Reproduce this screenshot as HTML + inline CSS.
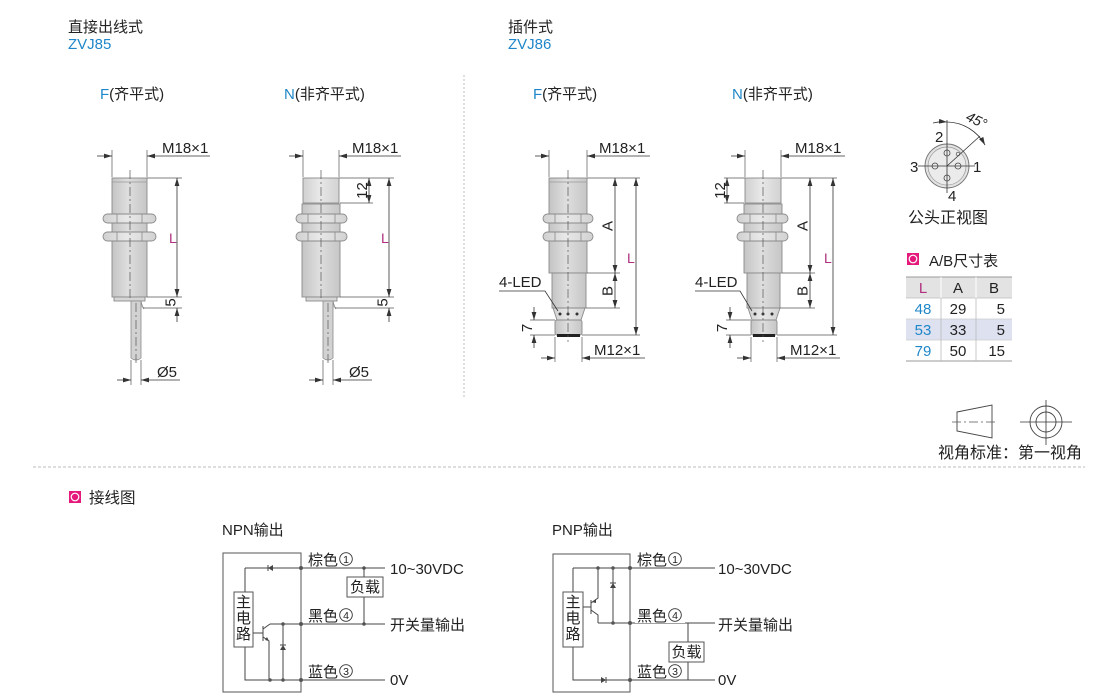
<!DOCTYPE html>
<html><head><meta charset="utf-8">
<style>
html,body{margin:0;padding:0;background:#fff;}
svg{display:block;}
text{font-family:"Liberation Sans","Noto Sans CJK SC",sans-serif;fill:#222;}
.d{stroke:#333;stroke-width:0.8;fill:none;}
.e{stroke:#555;stroke-width:0.7;fill:none;}
.c{stroke:#555;stroke-width:0.7;stroke-dasharray:9 3 2 3;fill:none;}
.b{stroke:#8a8a8a;stroke-width:0.9;}
.w{stroke:#444;stroke-width:1;fill:none;}
.t15{font-size:15px;}
.t14{font-size:14px;}
.bl{fill:#1f87c9;}
.mg{fill:#b0307f;}
.cn{fill:none;stroke:#333;stroke-width:0.9;}
.cd{font-size:10.5px;}
</style></head>
<body>
<svg width="1100" height="695" viewBox="0 0 1100 695" xmlns="http://www.w3.org/2000/svg">
<defs>
<marker id="a" markerUnits="userSpaceOnUse" markerWidth="8" markerHeight="6" refX="8" refY="3" orient="auto-start-reverse"><path d="M0,0.6 L8,3 L0,5.4z" fill="#333"/></marker>
<linearGradient id="g" x1="0" x2="1" y1="0" y2="0">
<stop offset="0" stop-color="#c4c4c4"/><stop offset="0.45" stop-color="#dedede"/><stop offset="1" stop-color="#c6c6c6"/>
</linearGradient>
<linearGradient id="g2" x1="0" x2="1" y1="0" y2="0">
<stop offset="0" stop-color="#d0d0d0"/><stop offset="0.45" stop-color="#e8e8e8"/><stop offset="1" stop-color="#d2d2d2"/>
</linearGradient>
</defs>

<!-- Headers -->
<text x="68" y="32" class="t15">直接出线式</text>
<text x="68" y="49" class="t15 bl">ZVJ85</text>
<text x="100" y="99" class="t15"><tspan class="bl">F</tspan>(齐平式)</text>
<text x="284" y="99" class="t15"><tspan class="bl">N</tspan>(非齐平式)</text>
<text x="508" y="32" class="t15">插件式</text>
<text x="508" y="49" class="t15 bl">ZVJ86</text>
<text x="533" y="99" class="t15"><tspan class="bl">F</tspan>(齐平式)</text>
<text x="732" y="99" class="t15"><tspan class="bl">N</tspan>(非齐平式)</text>

<!-- separators -->
<line x1="464" y1="75" x2="464" y2="398" stroke="#bdbdbd" stroke-width="1" stroke-dasharray="2 2"/>
<line x1="33" y1="467" x2="1085" y2="467" stroke="#bdbdbd" stroke-width="1" stroke-dasharray="3 2"/>

<!-- ===== Sensor 1: F ZVJ85 ===== -->
<g>
<line class="e" x1="112" y1="150" x2="112" y2="177"/>
<line class="e" x1="147" y1="150" x2="147" y2="177"/>
<path class="d" d="M97,156H112" marker-end="url(#a)"/>
<path class="d" d="M210,156H147" marker-end="url(#a)"/>
<text x="162" y="153" class="t15">M18×1</text>
<rect x="112" y="178" width="35" height="119" fill="url(#g)" class="b"/>
<line x1="112" y1="182" x2="147" y2="182" stroke="#9a9a9a" stroke-width="0.8"/>
<rect x="103" y="214" width="53" height="9" rx="4.5" fill="url(#g2)" class="b"/>
<rect x="103" y="232" width="53" height="9" rx="4.5" fill="url(#g2)" class="b"/>
<path d="M117,214V223M142,214V223M117,232V241M142,232V241" stroke="#8a8a8a" stroke-width="0.8"/>
<rect x="114" y="297" width="31" height="4" fill="#d6d6d6" class="b"/>
<path d="M131,301 H141 Q142,306 144,309 M141,301 V358 Q136,362 131,358 V301" fill="#d2d2d2" stroke="#8a8a8a" stroke-width="0.8"/>
<line class="c" x1="130" y1="170" x2="130" y2="300"/>
<line class="c" x1="136" y1="303" x2="136" y2="364"/>
<line class="e" x1="147" y1="178" x2="182" y2="178"/>
<line class="e" x1="147" y1="297" x2="182" y2="297"/>
<line class="e" x1="143" y1="308" x2="182" y2="308"/>
<path class="d" d="M177,178V297" marker-start="url(#a)" marker-end="url(#a)"/>
<path class="d" d="M177,322V308" marker-end="url(#a)"/>
<text x="169" y="243" class="t14 mg">L</text>
<text transform="translate(175.5,302.5) rotate(-90)" text-anchor="middle" class="t15">5</text>
<line class="e" x1="131" y1="360" x2="131" y2="385"/>
<line class="e" x1="141" y1="360" x2="141" y2="385"/>
<path class="d" d="M117,380H131" marker-end="url(#a)"/>
<path class="d" d="M180,380H141" marker-end="url(#a)"/>
<text x="157" y="377" class="t15">Ø5</text>
</g>

<!-- ===== Sensor 2: N ZVJ85 ===== -->
<g>
<line class="e" x1="303" y1="150" x2="303" y2="177"/>
<line class="e" x1="339" y1="150" x2="339" y2="177"/>
<path class="d" d="M289,156H303" marker-end="url(#a)"/>
<path class="d" d="M401,156H339" marker-end="url(#a)"/>
<text x="352" y="153" class="t15">M18×1</text>
<rect x="303" y="178" width="36" height="25" fill="url(#g2)" class="b"/>
<rect x="302" y="204" width="38" height="93" fill="url(#g)" class="b"/>
<rect x="296" y="214" width="51" height="9" rx="4.5" fill="url(#g2)" class="b"/>
<rect x="296" y="232" width="51" height="9" rx="4.5" fill="url(#g2)" class="b"/>
<path d="M308,214V223M335,214V223M308,232V241M335,232V241" stroke="#8a8a8a" stroke-width="0.8"/>
<rect x="306" y="297" width="31" height="4" fill="#d6d6d6" class="b"/>
<path d="M323,301 H333 Q334,306 336,309 M333,301 V358 Q328,362 323,358 V301" fill="#d2d2d2" stroke="#8a8a8a" stroke-width="0.8"/>
<line class="c" x1="321" y1="170" x2="321" y2="300"/>
<line class="c" x1="328" y1="303" x2="328" y2="364"/>
<line class="e" x1="339" y1="178" x2="394" y2="178"/>
<line class="e" x1="340" y1="203" x2="373" y2="203"/>
<line class="e" x1="340" y1="297" x2="394" y2="297"/>
<line class="e" x1="335" y1="308" x2="394" y2="308"/>
<path class="d" d="M369,178V203" marker-start="url(#a)" marker-end="url(#a)"/>
<text transform="translate(367,190.5) rotate(-90)" text-anchor="middle" class="t15">12</text>
<path class="d" d="M389,178V297" marker-start="url(#a)" marker-end="url(#a)"/>
<path class="d" d="M389,322V308" marker-end="url(#a)"/>
<text x="381" y="243" class="t14 mg">L</text>
<text transform="translate(387.5,302.5) rotate(-90)" text-anchor="middle" class="t15">5</text>
<line class="e" x1="323" y1="360" x2="323" y2="385"/>
<line class="e" x1="333" y1="360" x2="333" y2="385"/>
<path class="d" d="M309,380H323" marker-end="url(#a)"/>
<path class="d" d="M372,380H333" marker-end="url(#a)"/>
<text x="349" y="377" class="t15">Ø5</text>
</g>

<!-- ===== Sensor 3: F ZVJ86 ===== -->
<g>
<line class="e" x1="549" y1="150" x2="549" y2="177"/>
<line class="e" x1="587" y1="150" x2="587" y2="177"/>
<path class="d" d="M535,156H549" marker-end="url(#a)"/>
<path class="d" d="M650,156H587" marker-end="url(#a)"/>
<text x="599" y="153" class="t15">M18×1</text>
<rect x="549" y="178" width="38" height="95" fill="url(#g)" class="b"/>
<line x1="549" y1="182" x2="587" y2="182" stroke="#9a9a9a" stroke-width="0.8"/>
<rect x="543" y="214" width="50" height="9" rx="4.5" fill="url(#g2)" class="b"/>
<rect x="543" y="232" width="50" height="9" rx="4.5" fill="url(#g2)" class="b"/>
<path d="M555,214V223M581,214V223M555,232V241M581,232V241" stroke="#8a8a8a" stroke-width="0.8"/>
<rect x="552" y="273" width="34" height="35" fill="url(#g)" class="b"/>
<path d="M553,308 L557,320 H581 L585,308 Z" fill="url(#g2)" class="b"/>
<circle cx="560" cy="314" r="1.5" fill="#333"/><circle cx="568" cy="314" r="1.5" fill="#333"/><circle cx="577" cy="314" r="1.5" fill="#333"/>
<rect x="555" y="320" width="27" height="15" rx="2" fill="url(#g)" class="b"/>
<rect x="557" y="334" width="23" height="3" fill="#222"/>
<line class="c" x1="568" y1="170" x2="568" y2="342"/>
<line class="e" x1="587" y1="178" x2="640" y2="178"/>
<line class="e" x1="587" y1="273" x2="620" y2="273"/>
<line class="e" x1="586" y1="308" x2="620" y2="308"/>
<line class="e" x1="582" y1="335" x2="640" y2="335"/>
<path class="d" d="M615,178V273" marker-start="url(#a)" marker-end="url(#a)"/>
<path class="d" d="M615,273V308" marker-start="url(#a)" marker-end="url(#a)"/>
<path class="d" d="M636,178V335" marker-start="url(#a)" marker-end="url(#a)"/>
<text transform="translate(612.5,226) rotate(-90)" text-anchor="middle" class="t15">A</text>
<text transform="translate(612.5,291) rotate(-90)" text-anchor="middle" class="t15">B</text>
<text x="627" y="263" class="t14 mg">L</text>
<line class="e" x1="530" y1="320" x2="555" y2="320"/>
<line class="e" x1="530" y1="335" x2="555" y2="335"/>
<path class="d" d="M534,307V320" marker-end="url(#a)"/>
<path class="d" d="M534,348V335" marker-end="url(#a)"/>
<text transform="translate(532,328) rotate(-90)" text-anchor="middle" class="t15">7</text>
<line class="e" x1="555" y1="337" x2="555" y2="362"/>
<line class="e" x1="582" y1="337" x2="582" y2="362"/>
<path class="d" d="M541,358H555" marker-end="url(#a)"/>
<path class="d" d="M645,358H582" marker-end="url(#a)"/>
<text x="594" y="355" class="t15">M12×1</text>
<text x="499" y="287" class="t15">4-LED</text>
<path class="d" d="M499,291H545L558,311"/>
</g>

<!-- ===== Sensor 4: N ZVJ86 ===== -->
<g>
<line class="e" x1="745" y1="150" x2="745" y2="177"/>
<line class="e" x1="781" y1="150" x2="781" y2="177"/>
<path class="d" d="M731,156H745" marker-end="url(#a)"/>
<path class="d" d="M845,156H781" marker-end="url(#a)"/>
<text x="795" y="153" class="t15">M18×1</text>
<rect x="745" y="178" width="36" height="25" fill="url(#g2)" class="b"/>
<rect x="744" y="204" width="38" height="69" fill="url(#g)" class="b"/>
<rect x="737" y="214" width="51" height="9" rx="4.5" fill="url(#g2)" class="b"/>
<rect x="737" y="232" width="51" height="9" rx="4.5" fill="url(#g2)" class="b"/>
<path d="M750,214V223M776,214V223M750,232V241M776,232V241" stroke="#8a8a8a" stroke-width="0.8"/>
<rect x="747" y="273" width="33" height="35" fill="url(#g)" class="b"/>
<path d="M748,308 L752,320 H776 L780,308 Z" fill="url(#g2)" class="b"/>
<circle cx="755" cy="314" r="1.5" fill="#333"/><circle cx="763" cy="314" r="1.5" fill="#333"/><circle cx="772" cy="314" r="1.5" fill="#333"/>
<rect x="751" y="320" width="26" height="15" rx="2" fill="url(#g)" class="b"/>
<rect x="753" y="334" width="22" height="3" fill="#222"/>
<line class="c" x1="763" y1="170" x2="763" y2="342"/>
<line class="e" x1="724" y1="178" x2="745" y2="178"/>
<line class="e" x1="724" y1="203" x2="744" y2="203"/>
<path class="d" d="M727,178V203" marker-start="url(#a)" marker-end="url(#a)"/>
<text transform="translate(725,190.5) rotate(-90)" text-anchor="middle" class="t15">12</text>
<line class="e" x1="781" y1="178" x2="837" y2="178"/>
<line class="e" x1="782" y1="273" x2="815" y2="273"/>
<line class="e" x1="780" y1="308" x2="815" y2="308"/>
<line class="e" x1="777" y1="335" x2="837" y2="335"/>
<path class="d" d="M810,178V273" marker-start="url(#a)" marker-end="url(#a)"/>
<path class="d" d="M810,273V308" marker-start="url(#a)" marker-end="url(#a)"/>
<path class="d" d="M833,178V335" marker-start="url(#a)" marker-end="url(#a)"/>
<text transform="translate(807.5,226) rotate(-90)" text-anchor="middle" class="t15">A</text>
<text transform="translate(807.5,291) rotate(-90)" text-anchor="middle" class="t15">B</text>
<text x="824" y="263" class="t14 mg">L</text>
<line class="e" x1="726" y1="320" x2="751" y2="320"/>
<line class="e" x1="726" y1="335" x2="751" y2="335"/>
<path class="d" d="M730,307V320" marker-end="url(#a)"/>
<path class="d" d="M730,348V335" marker-end="url(#a)"/>
<text transform="translate(727,328) rotate(-90)" text-anchor="middle" class="t15">7</text>
<line class="e" x1="751" y1="337" x2="751" y2="362"/>
<line class="e" x1="777" y1="337" x2="777" y2="362"/>
<path class="d" d="M737,358H751" marker-end="url(#a)"/>
<path class="d" d="M840,358H777" marker-end="url(#a)"/>
<text x="790" y="355" class="t15">M12×1</text>
<text x="695" y="287" class="t15">4-LED</text>
<path class="d" d="M695,291H740L752,311"/>
</g>

<!-- ===== Connector face ===== -->
<g>
<circle cx="947" cy="166" r="22" fill="#e2e2e2" stroke="#777" stroke-width="0.9"/>
<circle cx="947" cy="166" r="19" fill="#ebebeb" stroke="#999" stroke-width="0.7"/>
<line class="d" x1="918" y1="166" x2="975" y2="166"/>
<line class="d" x1="947" y1="120" x2="947" y2="193"/>
<circle cx="947" cy="153" r="3" fill="none" stroke="#444" stroke-width="0.8"/>
<circle cx="935" cy="166" r="3" fill="none" stroke="#444" stroke-width="0.8"/>
<circle cx="958" cy="166" r="3" fill="none" stroke="#444" stroke-width="0.8"/>
<circle cx="947" cy="178" r="3" fill="none" stroke="#444" stroke-width="0.8"/>
<circle cx="958" cy="154" r="1.8" fill="none" stroke="#444" stroke-width="0.7"/>
<line class="d" x1="947" y1="166" x2="980" y2="136"/>
<path class="d" d="M933,123 A44,44 0 0 1 947,122" marker-end="url(#a)"/>
<path class="d" d="M947,122 A44,44 0 0 1 985,145" marker-end="url(#a)"/>
<text x="910" y="172" class="t15">3</text>
<text x="973" y="172" class="t15">1</text>
<text x="935" y="142" class="t15">2</text>
<text x="948" y="201" class="t15">4</text>
<text transform="translate(965,120) rotate(25)" class="t14" font-style="italic">45°</text>
<text x="908" y="223" style="font-size:16px">公头正视图</text>
</g>

<!-- ===== Table ===== -->
<g>
<rect x="907" y="253" width="12" height="12" fill="#e4197b"/>
<circle cx="913" cy="259" r="3.8" fill="none" stroke="#fff" stroke-width="1.2"/>
<text x="929" y="266" class="t15">A/B尺寸表</text>
<rect x="906" y="277" width="106" height="21" fill="#e3e3e3"/>
<rect x="906" y="319" width="106" height="21" fill="#dde1f0"/>
<line x1="906" y1="277" x2="1012" y2="277" stroke="#999" stroke-width="1"/>
<line x1="906" y1="298" x2="1012" y2="298" stroke="#bbb" stroke-width="0.8"/>
<line x1="906" y1="319" x2="1012" y2="319" stroke="#ccc" stroke-width="0.8"/>
<line x1="906" y1="340" x2="1012" y2="340" stroke="#ccc" stroke-width="0.8"/>
<line x1="906" y1="361" x2="1012" y2="361" stroke="#999" stroke-width="1"/>
<line x1="941" y1="277" x2="941" y2="298" stroke="#fff" stroke-width="1"/>
<line x1="976" y1="277" x2="976" y2="298" stroke="#fff" stroke-width="1"/>
<line x1="941" y1="298" x2="941" y2="361" stroke="#bbb" stroke-width="0.8"/>
<line x1="976" y1="298" x2="976" y2="361" stroke="#bbb" stroke-width="0.8"/>
<text x="923" y="293" text-anchor="middle" class="t15 mg">L</text>
<text x="958" y="293" text-anchor="middle" class="t15">A</text>
<text x="994" y="293" text-anchor="middle" class="t15">B</text>
<text x="923" y="314" text-anchor="middle" class="t15 bl">48</text>
<text x="958" y="314" text-anchor="middle" class="t15">29</text>
<text x="1005" y="314" text-anchor="end" class="t15">5</text>
<text x="923" y="335" text-anchor="middle" class="t15 bl">53</text>
<text x="958" y="335" text-anchor="middle" class="t15">33</text>
<text x="1005" y="335" text-anchor="end" class="t15">5</text>
<text x="923" y="356" text-anchor="middle" class="t15 bl">79</text>
<text x="958" y="356" text-anchor="middle" class="t15">50</text>
<text x="1005" y="356" text-anchor="end" class="t15">15</text>
</g>

<!-- ===== View symbol ===== -->
<g>
<path d="M957,412 L992,405 L992,438 L957,431 Z" fill="none" stroke="#444" stroke-width="0.9"/>
<line class="c" x1="952" y1="422" x2="998" y2="422"/>
<circle cx="1046" cy="422" r="16" fill="none" stroke="#444" stroke-width="0.9"/>
<circle cx="1046" cy="422" r="10" fill="none" stroke="#444" stroke-width="0.9"/>
<line class="d" x1="1020" y1="422" x2="1072" y2="422"/>
<line class="d" x1="1046" y1="400" x2="1046" y2="445"/>
<text x="938" y="458" style="font-size:16px">视角标准：第一视角</text>
</g>

<!-- ===== Wiring title ===== -->
<rect x="69" y="491" width="12" height="12" fill="#e4197b"/>
<circle cx="75" cy="497" r="3.8" fill="none" stroke="#fff" stroke-width="1.2"/>
<text x="89" y="503" style="font-size:15.5px">接线图</text>

<!-- ===== NPN ===== -->
<g>
<text x="222" y="535" class="t15">NPN输出</text>
<rect x="223" y="553" width="78" height="139" fill="none" stroke="#555" stroke-width="1"/>
<path class="w" d="M245,568H385 M245,568V592 M245,647V680H385 M270,624H385"/>
<rect x="234" y="592" width="19" height="55" fill="#fff" stroke="#555" stroke-width="1"/>
<text x="243.5" y="607" text-anchor="middle" class="t15">主</text>
<text x="243.5" y="623" text-anchor="middle" class="t15">电</text>
<text x="243.5" y="639" text-anchor="middle" class="t15">路</text>
<path d="M273,565 L273,571 L268,568 Z" fill="#444"/><line x1="268" y1="565" x2="268" y2="571" stroke="#444" stroke-width="1"/>
<path class="w" d="M253,633H263 M263,626V641 M263,629L270,624 M263,637L269,641V680"/>
<path d="M269,641 L265,640 L267,637 Z" fill="#444"/>
<path class="w" d="M283,624V680"/>
<path d="M280,650 L286,650 L283,645 Z" fill="#444"/><line x1="280" y1="645" x2="286" y2="645" stroke="#444" stroke-width="1"/>
<g fill="#555">
<circle cx="301" cy="568" r="2"/><circle cx="301" cy="624" r="2"/><circle cx="301" cy="680" r="2"/>
<circle cx="283" cy="624" r="1.8"/><circle cx="283" cy="680" r="1.8"/><circle cx="270" cy="680" r="1.8"/>
<circle cx="364" cy="568" r="1.8"/><circle cx="364" cy="624" r="1.8"/>
</g>
<path class="w" d="M364,568V577 M364,597V624"/>
<rect x="347" y="577" width="36" height="20" fill="#fff" stroke="#555" stroke-width="1"/>
<text x="365" y="592" text-anchor="middle" class="t15">负载</text>
<rect x="306" y="552" width="50" height="15" fill="#fff"/>
<rect x="306" y="608" width="50" height="15" fill="#fff"/>
<rect x="306" y="664" width="50" height="15" fill="#fff"/>
<text x="308" y="565" class="t15">棕色</text>
<text x="308" y="621" class="t15">黑色</text>
<text x="308" y="677" class="t15">蓝色</text>
<circle cx="346" cy="559" r="6.3" class="cn"/><text x="346" y="562.8" text-anchor="middle" class="cd">1</text>
<circle cx="346" cy="615" r="6.3" class="cn"/><text x="346" y="618.8" text-anchor="middle" class="cd">4</text>
<circle cx="346" cy="671" r="6.3" class="cn"/><text x="346" y="674.8" text-anchor="middle" class="cd">3</text>
<text x="390" y="574" class="t15">10~30VDC</text>
<text x="390" y="630" class="t15">开关量输出</text>
<text x="390" y="685" class="t15">0V</text>
</g>

<!-- ===== PNP ===== -->
<g>
<text x="552" y="535" class="t15">PNP输出</text>
<rect x="553" y="554" width="77" height="138" fill="none" stroke="#555" stroke-width="1"/>
<path class="w" d="M573,568H715 M573,568V592 M573,647V680H715 M598,623H715"/>
<rect x="563" y="592" width="20" height="55" fill="#fff" stroke="#555" stroke-width="1"/>
<text x="573" y="607" text-anchor="middle" class="t15">主</text>
<text x="573" y="623" text-anchor="middle" class="t15">电</text>
<text x="573" y="639" text-anchor="middle" class="t15">路</text>
<path class="w" d="M583,607H591 M591,600V614 M598,568V598L591,603 M591,610L598,615V623"/>
<path d="M592,602 L596,599 L596,603 Z" fill="#444"/>
<path class="w" d="M613,568V623"/>
<path d="M610,588 L616,588 L613,583 Z" fill="#444"/><line x1="610" y1="583" x2="616" y2="583" stroke="#444" stroke-width="1"/>
<path d="M601,677 L601,683 L606,680 Z" fill="#444"/><line x1="606" y1="677" x2="606" y2="683" stroke="#444" stroke-width="1"/>
<g fill="#555">
<circle cx="598" cy="568" r="1.8"/><circle cx="613" cy="568" r="1.8"/><circle cx="630" cy="568" r="2"/>
<circle cx="613" cy="623" r="1.8"/><circle cx="630" cy="623" r="2"/><circle cx="630" cy="680" r="2"/>
</g>
<path class="w" d="M688,623V642 M688,662V680"/>
<rect x="669" y="642" width="35" height="20" fill="#fff" stroke="#555" stroke-width="1"/>
<text x="686.5" y="657" text-anchor="middle" class="t15">负载</text>
<rect x="635" y="552" width="50" height="15" fill="#fff"/>
<rect x="635" y="608" width="50" height="15" fill="#fff"/>
<rect x="635" y="664" width="50" height="15" fill="#fff"/>
<text x="637" y="565" class="t15">棕色</text>
<text x="637" y="621" class="t15">黑色</text>
<text x="637" y="677" class="t15">蓝色</text>
<circle cx="675" cy="559" r="6.3" class="cn"/><text x="675" y="562.8" text-anchor="middle" class="cd">1</text>
<circle cx="675" cy="615" r="6.3" class="cn"/><text x="675" y="618.8" text-anchor="middle" class="cd">4</text>
<circle cx="675" cy="671" r="6.3" class="cn"/><text x="675" y="674.8" text-anchor="middle" class="cd">3</text>
<text x="718" y="574" class="t15">10~30VDC</text>
<text x="718" y="630" class="t15">开关量输出</text>
<text x="718" y="685" class="t15">0V</text>
</g>
</svg>
</body></html>
